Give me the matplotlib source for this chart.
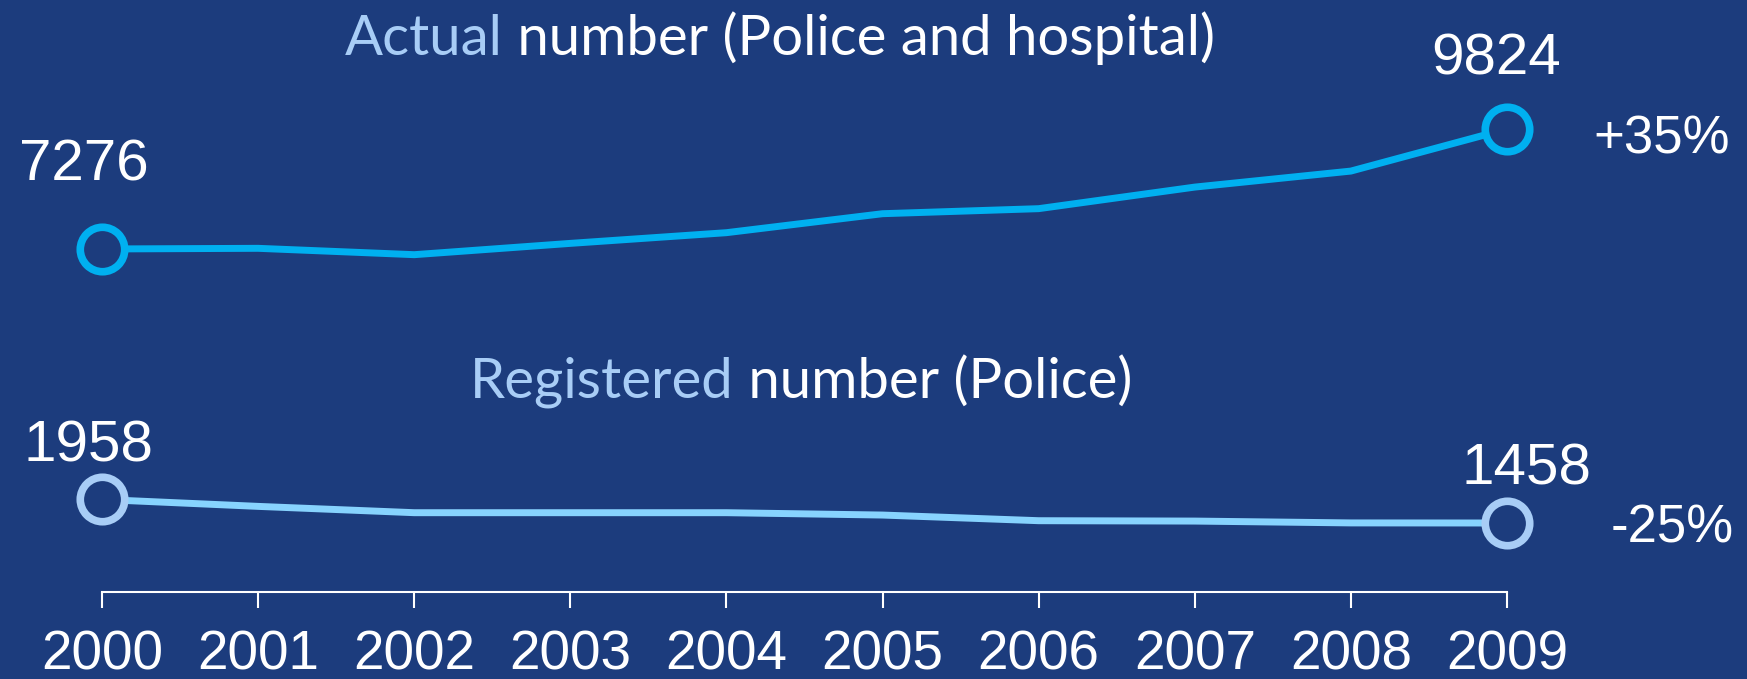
import matplotlib
matplotlib.use("Agg")
import matplotlib.pyplot as plt

# data
years = [2000, 2001, 2002, 2003, 2004, 2005, 2006, 2007, 2008, 2009]
actual = [7276, 7290, 7155, 7395, 7622, 8025, 8132, 8590, 8930, 9824]
registered = [1958, 1811, 1677, 1677, 1677, 1627, 1507, 1499, 1460, 1458]
actual_change = "+35%"
registered_change = "-25%"

bg = "#1c3c7d"
c_actual = "#00b0f0"
c_reg = "#87d3fe"
c_reg_marker = "#a8cdf6"
c_light = "#a8cdf6"

fig = plt.figure(figsize=(17.47, 6.79), dpi=100, facecolor=bg)
ax = fig.add_axes([0, 0.1286, 1, 0.8324])
ax.set_facecolor(bg)

ax.plot(years, actual, color=c_actual, lw=5, marker="o", markevery=[0, -1],
        ms=32, mew=5.5, mfc=bg, mec=c_actual)
ax.plot(years, registered, color=c_reg, lw=5, marker="o", markevery=[0, -1],
        ms=32, mew=5.5, mfc=bg, mec=c_reg_marker)

ax.set_xlim(1999.3466, 2010.5375)
ax.set_ylim(0, 12000)

# value labels at the end points
num_font = dict(family="Liberation Sans", color="white", ha="center", va="baseline")
ax.annotate(str(actual[0]), (years[0], actual[0]), xytext=(-13, 49),
            textcoords="offset points", fontsize=42, **num_font)
ax.annotate(str(actual[-1]), (years[-1], actual[-1]), xytext=(-8, 39),
            textcoords="offset points", fontsize=42, **num_font)
ax.annotate(str(registered[0]), (years[0], registered[0]), xytext=(-10, 27),
            textcoords="offset points", fontsize=42, **num_font)
ax.annotate(str(registered[-1]), (years[-1], registered[-1]), xytext=(14, 28),
            textcoords="offset points", fontsize=42, **num_font)
ax.annotate(actual_change, (years[-1], actual[-1]), xytext=(111, -18),
            textcoords="offset points", fontsize=38, **num_font)
ax.annotate(registered_change, (years[-1], registered[-1]), xytext=(119, -14),
            textcoords="offset points", fontsize=38, **num_font)

# two-colour series titles
title_font = dict(family="Lato", fontsize=40.5)
t1 = fig.text(345 / 1747, 1 - 55 / 679, "Actual", color=c_light, ha="left",
              va="baseline", **title_font)
ax.annotate(" number (Police and hospital)", xy=(1, 0), xycoords=t1,
            ha="left", va="bottom", color="white", **title_font)
t2 = fig.text(470 / 1747, 1 - 397 / 679, "Registered", color=c_light, ha="left",
              va="baseline", **title_font)
ax.annotate(" number (Police)", xy=(1, 0), xycoords=t2,
            ha="left", va="bottom", color="white", **title_font)

# axis styling
for s in ["top", "left", "right"]:
    ax.spines[s].set_visible(False)
ax.spines["bottom"].set_color("white")
ax.spines["bottom"].set_linewidth(1.5)
ax.spines["bottom"].set_bounds(years[0], years[-1])
ax.set_yticks([])
ax.set_xticks(years)
ax.set_xticklabels([str(y) for y in years])
ax.tick_params(axis="x", colors="white", length=11.5, width=1.5, pad=16,
               labelsize=39.5)
for lab in ax.get_xticklabels():
    lab.set_family("Liberation Sans")

fig.savefig("out.png", dpi=100, facecolor=bg)
